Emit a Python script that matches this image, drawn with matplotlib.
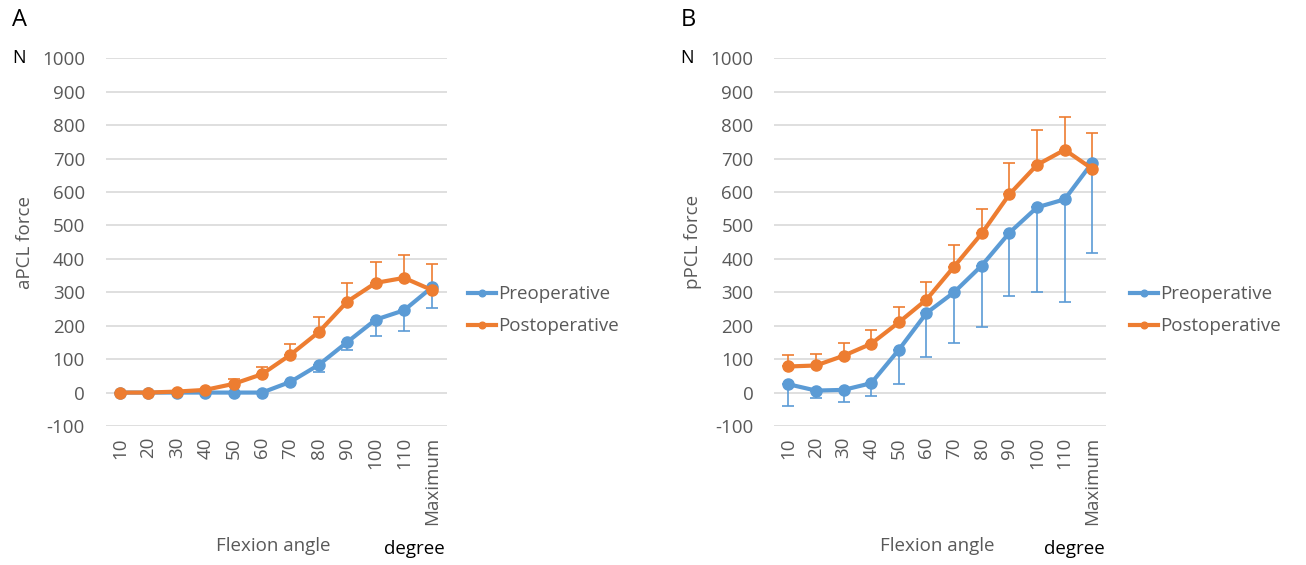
import numpy as np
import matplotlib.pyplot as plt

# Data
angles = ["10", "20", "30", "40", "50", "60", "70", "80", "90", "100", "110", "Maximum"]

# A: aPCL force (N)
a_pre = [0, 0, 0, 0, 0, 0, 32, 83, 151, 218, 246, 316]
a_pre_err = [0, 0, 0, 0, 0, 0, 4, 20, 25, 48, 63, 63]
a_post = [0, 0, 3, 8, 26, 55, 113, 181, 272, 328, 343, 306]
a_post_err = [0, 0, 0, 0, 15, 22, 31, 44, 56, 62, 69, 78]

# B: pPCL force (N)
b_pre = [25, 6, 8, 28, 128, 238, 300, 380, 478, 554, 578, 688]
b_pre_err = [64, 23, 37, 38, 103, 133, 153, 183, 188, 254, 307, 272]
b_post = [78, 81, 110, 146, 210, 278, 377, 476, 593, 681, 726, 669]
b_post_err = [34, 35, 39, 40, 45, 52, 64, 73, 93, 105, 99, 108]

blue = "#5B9BD5"
orange = "#ED7D31"
gray = "#595959"

plt.rcParams['font.family'] = ['Open Sans', 'DejaVu Sans']
plt.rcParams['axes.unicode_minus'] = False

fig = plt.figure(figsize=(13.06, 5.65), dpi=100)


def panel(left, width, pre, pre_err, post, post_err, ylab, letter, leg_x):
    ax = fig.add_axes([left, 0.246, width, 0.651])
    x = np.arange(len(angles))
    # error bars: preoperative down, postoperative up
    ax.errorbar(x, pre, yerr=[pre_err, np.zeros(len(x))], fmt="none",
                ecolor=blue, elinewidth=1.2, capsize=4, capthick=1.2, zorder=3)
    ax.errorbar(x, post, yerr=[np.zeros(len(x)), post_err], fmt="none",
                ecolor=orange, elinewidth=1.2, capsize=4, capthick=1.2, zorder=3)
    ax.plot(x, pre, color=blue, lw=3, marker="o", ms=8, label="Preoperative", zorder=4)
    ax.plot(x, post, color=orange, lw=3, marker="o", ms=8, label="Postoperative", zorder=5)

    ax.set_xlim(-0.5, len(x) - 0.5)
    ax.set_ylim(-100, 1000)
    ax.set_yticks(np.arange(-100, 1001, 100))
    ax.set_xticks(x)
    ax.set_xticklabels(angles, rotation=90)
    ax.grid(axis="y", color="#d9d9d9", lw=1.2)
    ax.set_axisbelow(True)
    for s in ax.spines.values():
        s.set_visible(False)
    ax.tick_params(length=0, labelsize=13.5, colors=gray)
    ax.tick_params(axis="y", pad=15)
    ax.tick_params(axis="x", pad=8)
    ax.set_ylabel(ylab, fontsize=13.5, color=gray, labelpad=6)

    fig.text(left - 0.072, 0.965, letter, fontsize=17, va="center")
    fig.text(left - 0.072, 0.898, "N", fontsize=13, va="center")
    fig.text(left + width * 0.49, 0.025, "Flexion angle", fontsize=13.5, color=gray, ha="center")
    fig.text(left + width * 0.905, 0.02, "degree", fontsize=13.5, ha="center")

    leg = ax.legend(loc="center left", bbox_to_anchor=(leg_x, 0.315), frameon=False,
                    fontsize=13.5, labelcolor=gray, handlelength=1.5, handletextpad=0.1,
                    labelspacing=0.75, borderaxespad=0, markerscale=0.6)
    return ax


panel(0.081, 0.261, a_pre, a_pre_err, a_post, a_post_err, "aPCL force", "A", 1.04)
panel(0.593, 0.254, b_pre, b_pre_err, b_post, b_post_err, "pPCL force", "B", 1.05)

fig.savefig("out.png", dpi=100)
